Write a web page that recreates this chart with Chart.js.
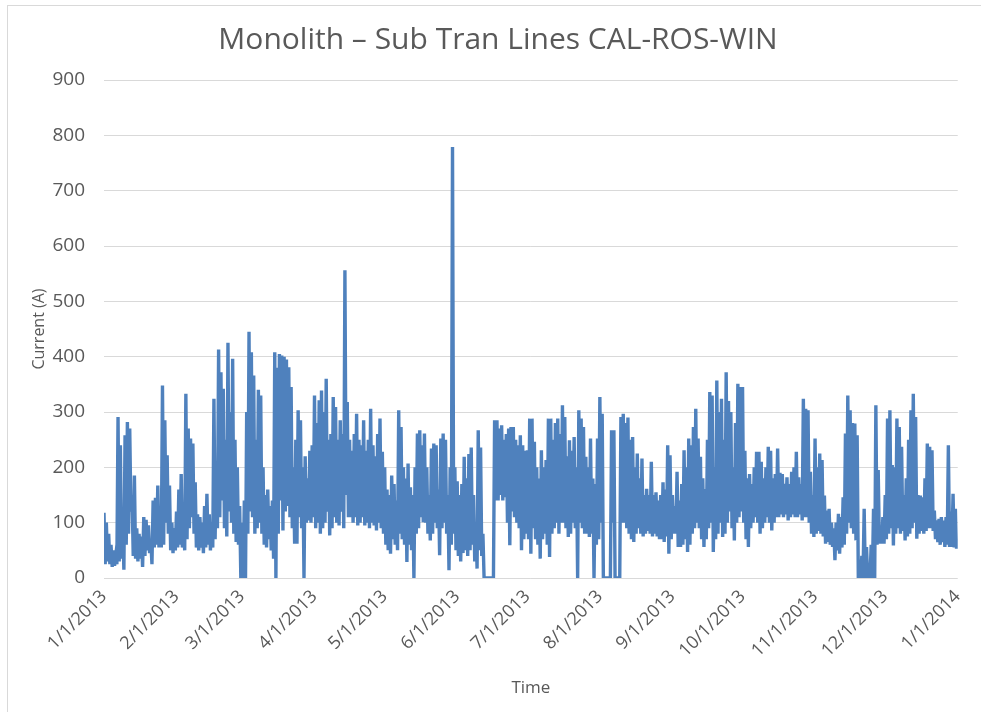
<!DOCTYPE html>
<html>
<head>
<meta charset="utf-8">
<script src="https://cdn.jsdelivr.net/npm/chart.js@4.4.0/dist/chart.umd.min.js"></script>
<style>
  html, body { margin: 0; padding: 0; background: #fff; overflow: hidden; }
  #wrap { position: relative; width: 981px; height: 712px; }
  #frame { position: absolute; left: 7px; top: 5px; width: 990px; height: 720px;
           border: 1px solid #d9d9d9; pointer-events: none; }
</style>
</head>
<body>
<div id="wrap">
  <canvas id="myChart" width="981" height="712"></canvas>
  <div id="frame"></div>
</div>
<script>
// month start offsets (days since 1/1/2013) and their labels
const monthStarts = [0, 31, 59, 90, 120, 151, 181, 212, 243, 273, 304, 334, 365];
const tickLabels = ['1/1/2013', '2/1/2013', '3/1/2013', '4/1/2013', '5/1/2013', '6/1/2013',
  '7/1/2013', '8/1/2013', '9/1/2013', '10/1/2013', '11/1/2013', '12/1/2013', '1/1/2014'];
const yTicks = [0, 100, 200, 300, 400, 500, 600, 700, 800, 900];
const titleText = 'Monolith – Sub Tran Lines CAL-ROS-WIN';

// daily high / low current (A), one row per month
const dayHigh = [
  118,100,80,60,50,40,291,240,100,258,282,270,150,185,90,80,75,110,105,95,70,140,145,167,130,348,285,222,167,100,90,
  120,160,188,110,333,270,252,243,173,115,110,100,130,152,115,100,324,200,413,372,342,250,425,300,396,250,200,130,
  100,140,300,445,408,366,250,340,330,200,150,160,130,140,408,380,405,402,400,395,381,345,200,250,303,285,200,220,180,230,240,
  330,280,321,339,300,360,250,260,327,309,250,285,260,556,318,250,230,260,297,250,240,285,230,250,306,240,220,260,288,228,
  200,160,150,185,170,140,303,273,200,180,207,164,150,200,261,267,240,261,200,150,234,243,240,160,252,261,250,150,200,779,200,
  175,150,170,219,180,224,236,150,100,267,236,80,0,0,0,0,285,285,270,276,250,260,270,273,273,250,240,258,240,230,
  231,288,288,246,200,180,231,200,213,288,288,250,280,288,260,312,291,220,249,230,255,200,303,288,273,219,200,252,180,170,252,
  327,297,0,0,0,267,267,0,0,291,297,280,290,250,255,200,225,180,216,150,161,150,210,150,155,140,150,173,160,240,222,
  150,130,192,140,170,231,200,252,240,273,306,252,219,180,161,250,336,330,200,357,300,324,250,372,320,300,200,280,351,345,
  345,230,180,188,170,200,228,228,210,180,200,237,230,180,188,234,190,188,170,182,170,192,200,228,182,170,324,306,303,192,150,
  252,200,225,213,149,122,125,100,90,100,116,110,146,261,330,303,280,279,258,0,40,125,56,0,60,125,312,195,92,110,
  150,288,303,204,200,288,273,237,150,180,250,303,333,291,150,149,146,180,243,237,231,122,104,107,110,104,110,240,120,152,125
];
const dayLow = [
  25,30,25,20,22,25,30,35,15,60,80,120,40,35,30,35,20,40,50,45,25,55,60,55,55,60,100,80,50,45,50,
  55,60,55,50,70,90,110,80,55,50,55,45,55,60,50,55,70,90,110,140,90,75,120,100,80,65,60,0,
  0,0,80,120,110,80,90,100,80,60,55,70,50,35,0,80,140,86,120,130,110,90,62,62,110,90,0,100,104,100,110,
  90,100,80,90,100,120,77,90,110,100,95,120,90,150,110,110,100,110,95,100,110,95,100,90,100,95,86,100,90,80,
  60,50,44,70,60,50,80,70,60,29,60,50,0,80,90,110,101,100,80,68,80,100,90,41,90,100,80,14,60,80,50,
  40,30,45,50,40,50,60,30,17,50,40,0,0,0,0,0,140,140,150,140,146,100,59,120,110,100,90,50,70,80,
  70,44,90,70,60,35,70,80,60,38,80,90,100,80,100,100,90,74,80,100,90,0,100,90,80,80,74,80,0,60,70,
  100,0,0,0,0,100,0,0,0,100,100,90,80,70,65,80,90,80,75,80,85,80,75,80,75,70,70,65,75,44,70,
  80,80,56,56,60,70,47,60,80,90,100,90,70,56,70,90,100,47,70,80,100,74,80,100,120,90,68,100,110,120,
  100,70,56,90,100,110,100,80,90,100,110,100,86,100,110,110,115,110,115,104,110,115,110,110,115,104,110,110,100,80,74,
  80,85,80,75,62,65,60,56,32,50,44,55,60,80,100,90,80,68,0,0,0,0,0,0,0,0,60,62,62,62,
  70,80,90,59,80,90,80,85,68,75,80,90,100,71,80,85,80,85,90,90,85,70,65,60,65,56,60,56,56,55,53
];

const points = [];
dayHigh.forEach(function (h, i) {
  points.push({ x: i, y: h });
  points.push({ x: i + 0.5, y: dayLow[i] });
});

const grey = '#595959';
const font = 'Open Sans';

// chart title, centred over the whole frame rather than the padded box
const frameTitle = {
  id: 'frameTitle',
  afterDraw: function (chart) {
    const ctx = chart.ctx;
    ctx.save();
    ctx.font = '30px "' + font + '"';
    ctx.fillStyle = grey;
    ctx.textAlign = 'center';
    ctx.textBaseline = 'middle';
    ctx.fillText(titleText, 498, 40);
    ctx.restore();
  }
};

new Chart(document.getElementById('myChart'), {
  type: 'line',
  data: {
    datasets: [{
      data: points,
      borderColor: '#4f81bd',
      borderWidth: 3.4,
      pointRadius: 0,
      tension: 0,
      fill: false
    }]
  },
  options: {
    responsive: false,
    animation: false,
    events: [],
    layout: { padding: { left: 0, right: 23, top: 80, bottom: 0 } },
    plugins: {
      legend: { display: false },
      tooltip: { enabled: false },
      title: { display: false }
    },
    scales: {
      x: {
        type: 'linear',
        min: 0,
        max: 365,
        grid: { display: false, drawTicks: false },
        border: { display: false },
        afterBuildTicks: function (scale) {
          scale.ticks = monthStarts.map(function (v) { return { value: v }; });
        },
        afterFit: function (scale) { scale.height = 134; },
        ticks: {
          autoSkip: false,
          maxRotation: 45,
          minRotation: 45,
          padding: 8,
          color: grey,
          font: { family: font, size: 18 },
          callback: function (value, index) { return tickLabels[index]; }
        },
        title: {
          display: true,
          text: 'Time',
          color: grey,
          font: { family: font, size: 17 },
          padding: { top: 0, bottom: 14 }
        }
      },
      y: {
        min: 0,
        max: 900,
        grid: { color: '#d9d9d9', lineWidth: 1, drawTicks: false },
        border: { display: false },
        afterBuildTicks: function (scale) {
          scale.ticks = yTicks.map(function (v) { return { value: v }; });
        },
        afterFit: function (scale) { scale.width = 104; },
        ticks: {
          padding: 19,
          color: grey,
          font: { family: font, size: 19 }
        },
        title: {
          display: true,
          text: 'Current (A)',
          color: grey,
          font: { family: font, size: 16 },
          padding: { top: 30, bottom: 0 }
        }
      }
    }
  },
  plugins: [frameTitle]
});
</script>
</body>
</html>
